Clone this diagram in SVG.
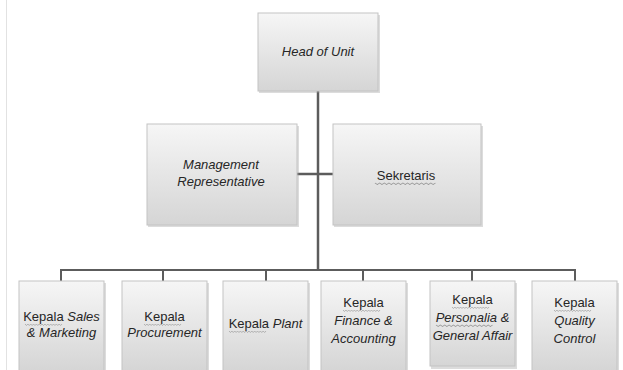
<svg xmlns="http://www.w3.org/2000/svg" width="623" height="370" viewBox="0 0 623 370">
<defs>
<linearGradient id="g" x1="0" y1="0" x2="0" y2="1">
<stop offset="0" stop-color="#f6f6f6"/>
<stop offset="1" stop-color="#d5d5d5"/>
</linearGradient>
<path id="sq" d="M0 0 l1.5 1.5 l1.5 -1.5 l1.5 1.5 l1.5 -1.5 l1.5 1.5 l1.5 -1.5 l1.5 1.5 l1.5 -1.5 l1.5 1.5 l1.5 -1.5 l1.5 1.5 l1.5 -1.5 l1.5 1.5 l1.5 -1.5 l1.5 1.5 l1.5 -1.5 l1.5 1.5 l1.5 -1.5 l1.5 1.5 l1.5 -1.5 l1.5 1.5 l1.5 -1.5 l1.5 1.5 l1.5 -1.5 l1.5 1.5 l1.5 -1.5"/>
</defs>
<style>
.box{fill:url(#g);stroke:#c3c3c3;stroke-width:1}
.sh{fill:#9a9a9a;opacity:0.35}
.t{font-family:"Liberation Sans",Arial,sans-serif;font-size:13px;fill:#262626;text-anchor:middle}
.i{font-style:italic}
.ln{stroke:#5c5c5c;fill:none;stroke-width:2.5}
.ln2{stroke:#5c5c5c;fill:none;stroke-width:2}
.squig{fill:none;stroke:#9a9a9a;stroke-width:0.7}
</style>
<rect width="623" height="370" fill="#ffffff"/>
<line x1="6.5" y1="0" x2="6.5" y2="370" stroke="#e2e2e2" stroke-width="1"/>
<g id="connectors">
<line class="ln" x1="318" y1="91" x2="318" y2="271"/>
<line class="ln" x1="297" y1="174" x2="333" y2="174"/>
<polyline class="ln2" points="61,281 61,270 575,270 575,281"/>
<line class="ln2" x1="163" y1="270" x2="163" y2="281"/>
<line class="ln2" x1="266" y1="270" x2="266" y2="281"/>
<line class="ln2" x1="363" y1="270" x2="363" y2="281"/>
<line class="ln2" x1="472" y1="270" x2="472" y2="281"/>
</g>
<g id="head">
<rect class="sh" x="259" y="15" width="121" height="78"/>
<rect class="box" x="258" y="13" width="120" height="78"/>
<text class="t i" x="318" y="56">Head of Unit</text>
</g>
<g id="mr">
<rect class="sh" x="148" y="126" width="151" height="101"/>
<rect class="box" x="147" y="124" width="150" height="101"/>
<text class="t i" x="221" y="169">Management</text>
<text class="t i" x="221" y="186">Representative</text>
</g>
<g id="sekretaris">
<rect class="sh" x="334" y="126" width="149" height="101"/>
<rect class="box" x="333" y="124" width="148" height="101"/>
<text class="t" x="406" y="180">Sekretaris</text>
<use href="#sq" class="squig" x="375" y="183" transform="translate(375,183) scale(1.55,1) translate(-375,-183)"/>
</g>
<g id="sales">
<rect class="sh" x="20" y="283" width="86" height="90"/>
<rect class="box" x="19" y="281" width="85" height="90"/>
<text class="t" x="61.5" y="321"><tspan>Kepala </tspan><tspan class="i">Sales</tspan></text>
<text class="t i" x="61.5" y="337">&amp; Marketing</text>
<use href="#sq" class="squig" x="25" y="324" transform="translate(25,324) scale(0.95,1) translate(-25,-324)"/>
</g>
<g id="procurement">
<rect class="sh" x="123" y="283" width="86" height="90"/>
<rect class="box" x="122" y="281" width="85" height="90"/>
<text class="t" x="164.5" y="321">Kepala</text>
<text class="t i" x="164.5" y="337">Procurement</text>
<use href="#sq" class="squig" x="144" y="324" transform="translate(144,324) scale(0.95,1) translate(-144,-324)"/>
</g>
<g id="plant">
<rect class="sh" x="224" y="283" width="86" height="90"/>
<rect class="box" x="223" y="281" width="85" height="90"/>
<text class="t" x="265.5" y="328"><tspan>Kepala </tspan><tspan class="i">Plant</tspan></text>
<use href="#sq" class="squig" x="229" y="331" transform="translate(229,331) scale(0.95,1) translate(-229,-331)"/>
</g>
<g id="finance">
<rect class="sh" x="322" y="283" width="86" height="90"/>
<rect class="box" x="321" y="281" width="85" height="90"/>
<text class="t" x="363.5" y="307">Kepala</text>
<text class="t i" x="363.5" y="325">Finance &amp;</text>
<text class="t i" x="363.5" y="343">Accounting</text>
<use href="#sq" class="squig" x="343" y="310" transform="translate(343,310) scale(0.95,1) translate(-343,-310)"/>
</g>
<g id="personalia">
<rect class="sh" x="431" y="283" width="86" height="86"/>
<rect class="box" x="430" y="281" width="85" height="85"/>
<text class="t" x="472.5" y="304">Kepala</text>
<text class="t i" x="472.5" y="322">Personalia &amp;</text>
<text class="t i" x="472.5" y="340">General Affair</text>
<use href="#sq" class="squig" x="452" y="307" transform="translate(452,307) scale(0.95,1) translate(-452,-307)"/>
<use href="#sq" class="squig" x="436" y="325" transform="translate(436,325) scale(1.45,1) translate(-436,-325)"/>
</g>
<g id="quality">
<rect class="sh" x="533" y="283" width="86" height="90"/>
<rect class="box" x="532" y="281" width="85" height="90"/>
<text class="t" x="574.5" y="307">Kepala</text>
<text class="t i" x="574.5" y="325">Quality</text>
<text class="t i" x="574.5" y="343">Control</text>
<use href="#sq" class="squig" x="554" y="310" transform="translate(554,310) scale(0.95,1) translate(-554,-310)"/>
</g>
</svg>
